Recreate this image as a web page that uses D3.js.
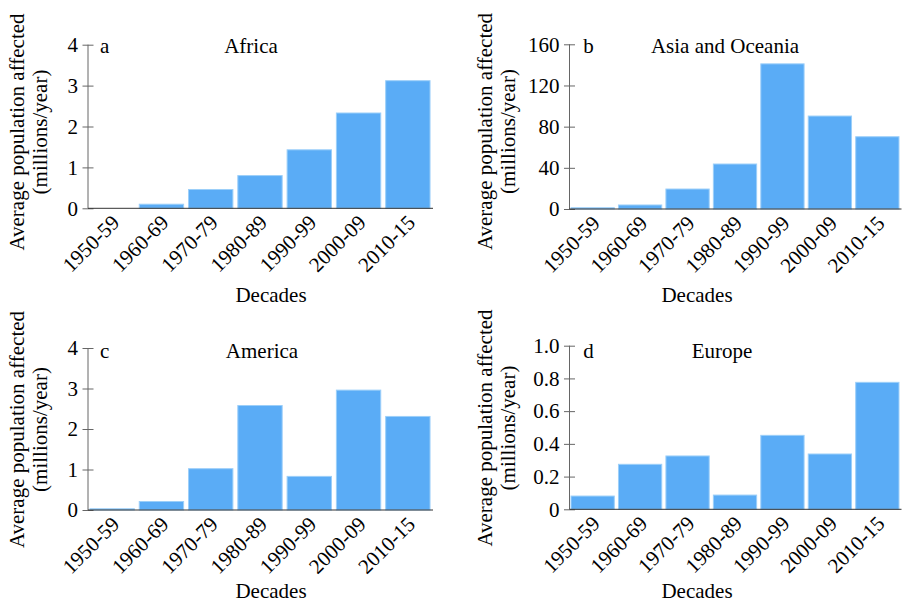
<!DOCTYPE html>
<html>
<head>
<meta charset="utf-8">
<script src="https://cdn.jsdelivr.net/npm/d3@7"></script>
</head>
<body style="margin:0;padding:0;background:#fff">
<svg id="chart" width="902" height="602" style="display:block"></svg>
<script>
// ---- data ----
const categories = ["1950-59", "1960-69", "1970-79", "1980-89", "1990-99", "2000-09", "2010-15"];
const africa      = [0.0, 0.10, 0.46, 0.80, 1.43, 2.33, 3.12];
const asiaOceania = [1.2, 3.9, 19.4, 43.7, 141, 90.3, 70.2];
const america     = [0.03, 0.21, 1.02, 2.58, 0.83, 2.96, 2.31];
const europe      = [0.081, 0.275, 0.326, 0.087, 0.452, 0.338, 0.776];

const ticksA = [0, 1, 2, 3, 4];
const ticksB = [0, 40, 80, 120, 160];
const ticksC = [0, 1, 2, 3, 4];
const ticksD = [0, 0.2, 0.4, 0.6, 0.8, 1.0];
const tickLabelsD = ["0", "0.2", "0.4", "0.6", "0.8", "1.0"];

const panelLetters = ["a", "b", "c", "d"];
const panelTitles = ["Africa", "Asia and Oceania", "America", "Europe"];
const yTitle1 = "Average population affected";
const yTitle2 = "(millions/year)";
const xTitle = "Decades";

// ---- layout ----
const layouts = [
  { values: africa, ticks: ticksA, labels: ticksA.map(String), max: 4,
    x0: 88, x1: 432, y0: 208.3, y1: 44.7, pi: 0.1, po: 0.04,
    yt1x: 24, yt2x: 46.5, ytc: 132, xtx: 271, xty: 301.5, tx: 251, ty: 52.7, lx: 100 },
  { values: asiaOceania, ticks: ticksB, labels: ticksB.map(String), max: 160,
    x0: 569.5, x1: 900.5, y0: 209, y1: 44.3, pi: 0.088, po: 0.032,
    yt1x: 492, yt2x: 514.5, ytc: 131.5, xtx: 697, xty: 301.5, tx: 725, ty: 52.7, lx: 583.3 },
  { values: america, ticks: ticksC, labels: ticksC.map(String), max: 4,
    x0: 88, x1: 432, y0: 510, y1: 348, pi: 0.1, po: 0.04,
    yt1x: 24, yt2x: 46.5, ytc: 429.5, xtx: 271, xty: 597.5, tx: 262, ty: 358.3, lx: 100 },
  { values: europe, ticks: ticksD, labels: tickLabelsD, max: 1.0,
    x0: 569.5, x1: 900.5, y0: 509.3, y1: 345.7, pi: 0.088, po: 0.032,
    yt1x: 492, yt2x: 514.5, ytc: 428, xtx: 697, xty: 597.5, tx: 722, ty: 358.3, lx: 583.3 }
];

const FONT = '"Liberation Serif"';
const FS = 21;
const svg = d3.select("#chart").attr("font-family", FONT);

function txt(sel) {
  return sel.attr("font-family", FONT).attr("font-size", FS).attr("fill", "#000");
}

layouts.forEach((L, i) => {
  const g = svg.append("g");
  const x = d3.scaleBand().domain(categories).range([L.x0, L.x1])
    .paddingInner(L.pi).paddingOuter(L.po);
  const y = d3.scaleLinear().domain([0, L.max]).range([L.y0, L.y1]);

  // bars
  g.selectAll("rect.bar").data(L.values).enter().append("rect")
    .attr("class", "bar")
    .attr("x", (d, j) => x(categories[j]))
    .attr("y", d => y(d))
    .attr("width", x.bandwidth())
    .attr("height", d => Math.max(0, L.y0 - y(d)))
    .attr("fill", "#5aacf6")
    .attr("stroke", "#9ccff9")
    .attr("stroke-width", 1);

  // y axis
  const yAxis = d3.axisLeft(y).tickValues(L.ticks)
    .tickFormat((d, j) => L.labels[j]).tickSize(5).tickPadding(5);
  const ya = g.append("g").attr("transform", `translate(${L.x0},0)`).call(yAxis)
    .attr("font-family", FONT);
  ya.select(".domain").attr("stroke", "#666").attr("d", `M0,${L.y1}V${L.y0}`);
  ya.selectAll(".tick line").attr("stroke", "#666").attr("x1", 5.5).attr("x2", -5.5);
  txt(ya.selectAll(".tick text"));

  // x axis
  const xAxis = d3.axisBottom(x).tickSize(0).tickPadding(0);
  const xa = g.append("g").attr("transform", `translate(0,${L.y0})`).call(xAxis)
    .attr("font-family", FONT);
  xa.select(".domain").attr("stroke", "#333").attr("d", `M${L.x0},0H${L.x1 + 1}`);
  txt(xa.selectAll(".tick text"))
    .attr("text-anchor", "end")
    .attr("dy", null).attr("y", null)
    .attr("transform", "translate(8.5,15.5) rotate(-45)");

  // y title
  txt(g.append("text")).attr("transform", `translate(${L.yt1x},${L.ytc}) rotate(-90)`)
    .attr("text-anchor", "middle").text(yTitle1);
  txt(g.append("text")).attr("transform", `translate(${L.yt2x},${L.ytc}) rotate(-90)`)
    .attr("text-anchor", "middle").text(yTitle2);

  // x title
  txt(g.append("text")).attr("x", L.xtx).attr("y", L.xty)
    .attr("text-anchor", "middle").text(xTitle);

  // panel letter and title
  txt(g.append("text")).attr("x", L.lx).attr("y", L.ty).text(panelLetters[i]);
  txt(g.append("text")).attr("x", L.tx).attr("y", L.ty).attr("text-anchor", "middle")
    .text(panelTitles[i]);
});
</script>
</body>
</html>
